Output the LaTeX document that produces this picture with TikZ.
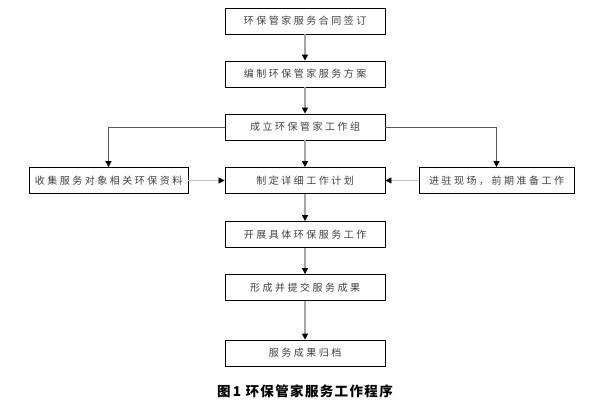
\documentclass[tikz,border=0pt]{standalone}
\usepackage{fontspec}
\newfontfamily\cjk[LetterSpace=25]{Noto Sans CJK SC}
\newfontfamily\cjkcap[LetterSpace=10]{Noto Sans CJK SC}
\usetikzlibrary{arrows.meta, positioning}

\begin{document}
\begin{tikzpicture}[x=1pt, y=-1pt,
    box/.style={draw, line width=0.8pt, minimum width=160pt, minimum height=26pt,
        inner sep=0pt, text=black!75, font=\cjk\fontsize{10}{12}\selectfont},
    link/.style={draw=gray!70, line width=1.4pt, -{Triangle[length=6pt, width=6pt, color=black]}},
    side/.style={draw=black!65, line width=0.9pt, -{Triangle[length=6pt, width=6pt, color=black]}},
    feed/.style={draw=gray!50, line width=0.6pt, -{Triangle[length=6pt, width=6pt, color=black]}}]
    \useasboundingbox (0,0) rectangle (593,406);

    % Main column

    \node[box] (sign) at (305,21) {环保管家服务合同签订};
    \node[box] (plan) at (305,74) {编制环保管家服务方案};
    \node[box] (team) at (305,127) {成立环保管家工作组};
    \node[box] (sched) at (305,180.5) {制定详细工作计划};
    \node[box] (work) at (305,234.5) {开展具体环保服务工作};
    \node[box] (result) at (305,287.5) {形成并提交服务成果};
    \node[box] (archive) at (305,353) {服务成果归档};

    % Side boxes

    \node[box, minimum width=159pt] (collect) at (108.5,180.5) {收集服务对象相关环保资料};
    \node[box, minimum width=155pt] (site) at (496.5,180.5) {进驻现场，前期准备工作};

    \draw[link] (sign) -- (plan);
    \draw[link] (plan) -- (team);
    \draw[link] (team) -- (sched);
    \draw[side] (team.west) -| (collect.north);
    \draw[side] (team.east) -| (site.north);
    \draw[feed] (collect) -- (sched);
    \draw[feed] (site) -- (sched);
    \draw[link] (sched) -- (work);
    \draw[link] (work) -- (result);
    \draw[link] (result) -- (archive);

    \node[font=\cjkcap\bfseries\fontsize{13.5}{15}\selectfont] (title) at (305,391) {图\,1 环保管家服务工作程序};
\end{tikzpicture}
\end{document}
